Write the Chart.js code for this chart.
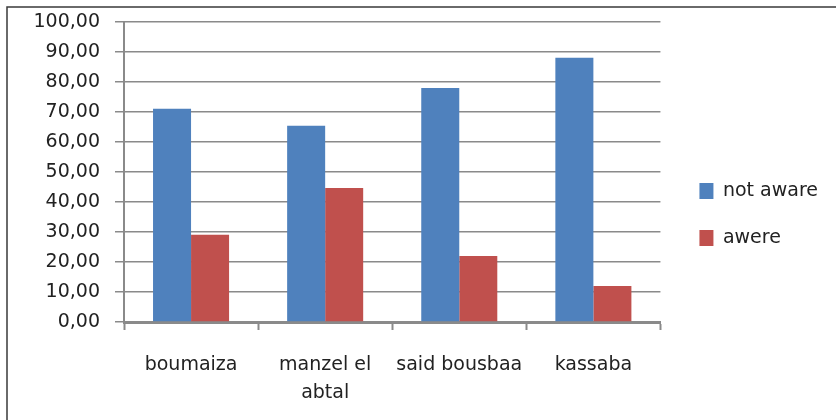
<!DOCTYPE html>
<html>
<head>
<meta charset="utf-8">
<script src="https://cdn.jsdelivr.net/npm/chart.js@4"></script>
<style>
  body { margin: 0; background: #fff; }
</style>
</head>
<body>
<canvas id="bar-chart" width="836" height="420"></canvas>
<script>
  var categories = ['boumaiza', ['manzel el', 'abtal'], 'said bousbaa', 'kassaba'];
  var notAware = [71.1, 65.4, 78.0, 88.1];
  var awere = [29.1, 44.7, 22.0, 12.0];
  var yTicks = [0, 10, 20, 30, 40, 50, 60, 70, 80, 90, 100];

  var font = 'DejaVu Sans';

  // white page + thin frame round the chart
  var framePlugin = {
    id: 'frame',
    beforeDraw: function (chart) {
      var ctx = chart.ctx;
      ctx.save();
      ctx.fillStyle = '#fff';
      ctx.fillRect(0, 0, chart.width, chart.height);
      ctx.strokeStyle = '#3a3a3a';
      ctx.lineWidth = 1.5;
      ctx.strokeRect(7, 7, chart.width + 20, chart.height + 20);
      ctx.restore();
    }
  };

  // legend sits a bit away from the plot
  var legendShift = {
    id: 'legendShift',
    afterLayout: function (chart) {
      chart.legend.left += 11;
      chart.legend.right += 11;
    }
  };

  new Chart(document.getElementById('bar-chart'), {
    type: 'bar',
    data: {
      labels: categories,
      datasets: [{
          label: 'not aware',
          data: notAware,
          backgroundColor: '#4F81BD'
        },
        {
          label: 'awere',
          data: awere,
          backgroundColor: '#C0504D'
        }
      ]
    },
    options: {
      responsive: false,
      animation: false,
      layout: { padding: { left: 0, top: 22, right: 19, bottom: 13 } },
      datasets: {
        bar: { categoryPercentage: 0.567, barPercentage: 1 }
      },
      plugins: {
        tooltip: { enabled: false },
        legend: {
          position: 'right',
          labels: {
            boxWidth: 14,
            boxHeight: 16,
            padding: 28,
            color: '#222',
            font: { family: font, size: 19 }
          }
        }
      },
      scales: {
        x: {
          grid: { drawOnChartArea: false, tickLength: 8, tickColor: '#8a8a8a', tickWidth: 2 },
          border: { color: '#8a8a8a', width: 3 },
          ticks: {
            color: '#222',
            padding: 21,
            maxRotation: 0,
            font: { family: font, size: 19, lineHeight: 1.47 }
          },
          afterFit: function (scale) {
            scale.height = 85;
            scale.paddingLeft = 0;
            scale.paddingRight = 0;
          }
        },
        y: {
          min: 0,
          max: 100,
          afterBuildTicks: function (scale) {
            scale.ticks = yTicks.map(function (v) { return { value: v }; });
          },
          grid: { color: '#8a8a8a', lineWidth: 1.5, tickLength: 9 },
          border: { color: '#8a8a8a', width: 2 },
          ticks: {
            color: '#222',
            padding: 15,
            font: { family: font, size: 19 },
            callback: function (v) { return v.toFixed(2).replace('.', ','); }
          },
          afterFit: function (scale) {
            scale.width = 124;
            scale.paddingTop = 0;
            scale.paddingBottom = 0;
          }
        }
      }
    },
    plugins: [framePlugin, legendShift]
  });
</script>
</body>
</html>
